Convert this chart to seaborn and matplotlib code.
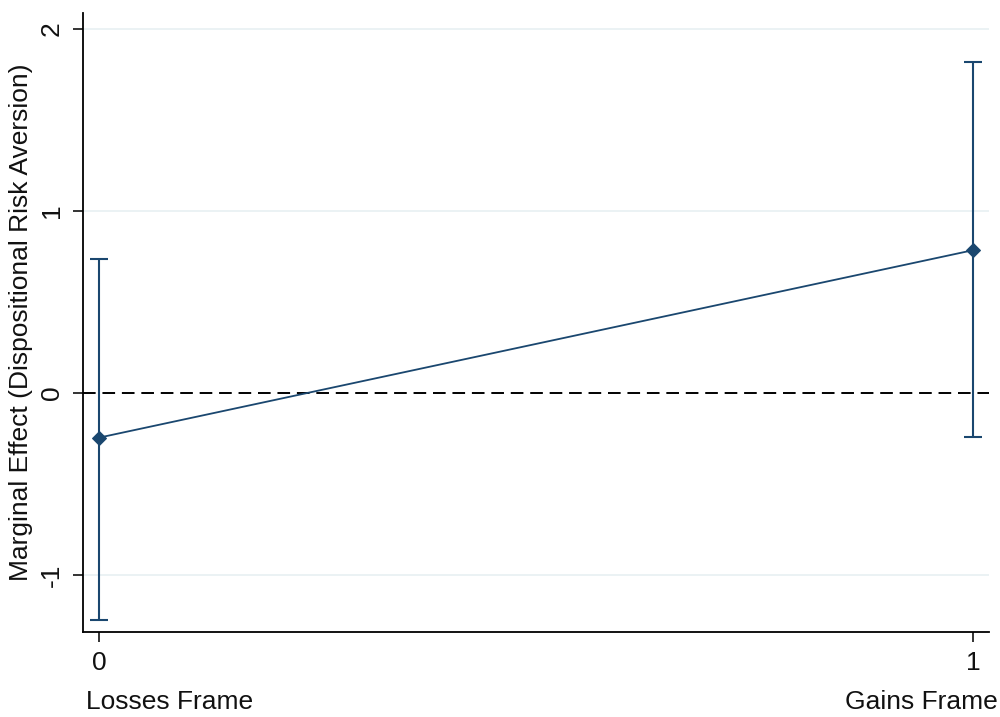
import numpy as np
import pandas as pd
import matplotlib
matplotlib.use("Agg")
import matplotlib.pyplot as plt
import seaborn as sns

frame = [0, 1]
effect = [-0.245, 0.785]
ci_low = [-1.247, -0.242]
ci_high = [0.736, 1.819]
x_ticks = [0, 1]
x_tick_labels = ["0", "1"]
x_names = ["Losses Frame", "Gains Frame"]
y_ticks = [-1, 0, 1, 2]
y_label = "Marginal Effect (Dispositional Risk Aversion)"

sns.set_style("white")
plt.rcParams['font.family'] = ['Liberation Sans', 'DejaVu Sans']
plt.rcParams['text.color'] = '#111111'
plt.rcParams['axes.labelcolor'] = '#111111'

df = pd.DataFrame({"frame": frame, "effect": effect, "lo": ci_low, "hi": ci_high})
navy = "#1a476f"
fs = 19

fig = plt.figure(figsize=(10, 7.17), dpi=100)
ax = fig.add_axes([0.083, 0.1185, 0.906, 0.8633])

for t in [-1, 1, 2]:
    ax.axhline(t, color="#e8f0f2", lw=1.2, zorder=0)
ax.axhline(0, color="black", lw=1.4, ls=(0, (6.5, 3.5)), zorder=1)

sns.lineplot(data=df, x="frame", y="effect", ax=ax, color=navy, lw=1.3,
             marker="D", markersize=7, markeredgecolor=navy, zorder=3)
ax.errorbar(df["frame"], df["effect"],
            yerr=[df["effect"] - df["lo"], df["hi"] - df["effect"]],
            fmt="none", ecolor=navy, elinewidth=1.5, capsize=6.5, capthick=1.5, zorder=2)

ax.set_xlim(-0.0183, 1.0183)
ax.set_ylim(-1.313, 2.088)
ax.set_xticks(x_ticks)
ax.set_xticklabels(x_tick_labels)
ax.set_yticks(y_ticks)
ax.set_yticklabels([str(v) for v in y_ticks], rotation=90, va="center")
ax.tick_params(axis="both", direction="out", length=7, width=1.2, labelsize=fs,
               colors="#111111", pad=7)
ax.tick_params(axis="both", which="both", left=True, bottom=True)
ax.set_xlabel("")
ax.set_ylabel(y_label, fontsize=fs)
ax.yaxis.set_label_coords(-0.055, 0.5)

for s in ["top", "right"]:
    ax.spines[s].set_visible(False)
for s in ["left", "bottom"]:
    ax.spines[s].set_color("black")
    ax.spines[s].set_linewidth(1.3)

fig.text(0.086, 0.004, x_names[0], ha="left", va="bottom", fontsize=fs)
fig.text(0.998, 0.004, x_names[1], ha="right", va="bottom", fontsize=fs)

fig.savefig("out.png", dpi=100)
